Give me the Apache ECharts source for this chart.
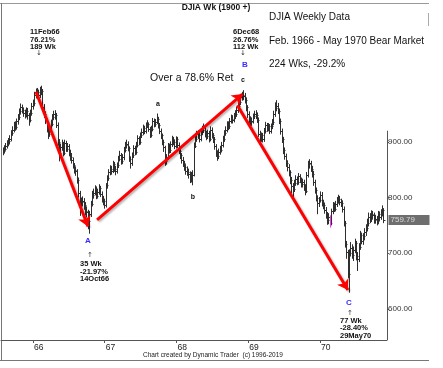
<!DOCTYPE html>
<html><head><meta charset="utf-8">
<script src="https://cdn.jsdelivr.net/npm/echarts@6/dist/echarts.min.js"></script>
<style>html,body{margin:0;padding:0;background:#fff;}#c{width:443px;height:368px;}</style>
</head><body><div id="c"></div>
<script>
// ---- data ----
const firstWeekEnding = [1965, 6, 30]; // Fri 30 Jul 1965 (UTC y, m0, d)
const weekClose = [
884,888,893,897,902,905,916,922,930,927,
937,945,955,962,958,952,950,956,948,940,
952,965,969,985,987,989,984,993,992,962,
950,938,924,914,925,933,944,950,948,931,
900,880,890,897,880,898,888,892,880,873,
868,858,850,847,832,808,788,792,793,787,
776,774,757,770,789,805,809,816,803,810,
818,807,797,793,786,822,835,845,852,848,
860,852,848,858,870,877,865,872,886,894,
897,889,870,862,876,889,882,895,907,900,
912,918,925,920,930,932,924,913,924,938,
932,935,941,930,920,912,900,890,866,872,
893,885,896,905,900,893,905,895,884,876,
868,862,855,848,846,842,833,840,840,893,
905,914,912,905,918,922,926,914,910,916,
905,922,912,905,892,880,874,882,886,895,
905,916,922,932,928,938,942,940,946,950,
958,965,972,980,984,982,975,962,950,940,
935,938,946,950,948,940,915,905,912,905,
920,930,924,928,920,928,935,950,960,965,
956,938,920,905,885,875,862,855,845,832,
820,815,826,834,828,838,832,824,828,818,
812,840,860,862,852,843,828,814,800,790,
796,805,790,786,778,770,760,765,755,775,
786,780,788,795,798,792,790,780,755,717,
702,662,700,710,697,706,718,695,690,712,
732,722,730,738,745,755,765,762,770,768,
760,762,758,770,765,772,778,759.79];
const weekHigh = [
890,894,898,903,907,912,921,928,936,937,
942,950,960,969,967,962,958,962,961,952,
958,970,976,990,996,997,994,999,1001,995,
968,955,942,928,931,940,950,956,957,952,
935,905,897,904,900,904,902,898,896,886,
880,872,862,856,851,836,812,800,802,799,
792,784,778,776,794,812,816,822,820,816,
824,821,811,803,798,826,840,851,858,857,
866,864,857,863,875,884,880,878,891,900,
904,901,892,874,881,894,893,900,912,910,
917,924,931,929,935,939,935,927,929,943,
942,941,951,945,934,924,915,904,893,878,
898,897,901,911,909,904,910,909,899,888,
880,873,866,860,856,852,847,846,849,899,
912,920,921,917,924,929,933,930,920,922,
920,928,926,916,909,896,885,888,893,900,
911,921,928,937,937,943,949,948,952,957,
963,971,978,985,990,993,988,980,966,955,
946,944,951,956,957,953,944,920,917,916,
925,936,934,934,932,933,941,956,971,975,
970,960,942,924,909,890,879,867,860,849,
837,826,832,840,838,844,842,836,834,832,
824,846,866,869,866,857,848,832,818,804,
801,811,810,796,791,783,774,772,768,780,
792,791,794,801,805,803,798,795,784,758,
722,706,707,720,716,712,726,722,702,718,
740,737,736,745,752,762,773,772,777,776,
773,769,767,776,775,779,786,781];
const weekLow = [
876,879,884,888,892,896,901,911,917,920,
922,931,939,949,951,945,942,944,940,929,
935,947,958,964,978,980,976,979,984,957,
943,932,917,905,909,920,928,939,940,925,
893,865,873,884,874,876,882,882,874,866,
861,852,843,839,825,800,767,778,784,778,
768,764,743,735,765,784,798,804,797,798,
805,801,791,786,780,782,816,830,840,841,
844,846,840,843,853,865,859,860,867,881,
888,883,864,852,857,871,876,877,890,894,
895,907,912,914,915,925,918,907,908,919,
926,927,932,924,914,905,894,882,857,859,
868,879,880,891,894,887,888,889,878,869,
861,855,848,841,839,834,826,827,822,838,
889,900,905,899,901,912,916,908,903,905,
899,901,906,898,886,873,866,869,877,881,
890,900,911,917,921,923,933,933,935,941,
945,952,960,966,974,975,969,955,943,933,
928,929,933,941,941,934,909,898,900,899,
900,915,918,919,914,915,923,930,945,955,
950,932,913,898,878,868,855,847,838,824,
808,801,810,821,822,823,826,818,818,812,
804,808,836,852,846,836,821,807,793,770,
783,791,784,779,771,762,751,752,746,750,
770,774,775,783,789,786,783,773,748,710,
690,655,629,694,690,686,700,687,668,684,
706,716,715,723,731,739,748,754,756,761,
753,753,750,752,758,760,766,754];
const highlightWeek = 238;               // magenta bar
const yearTicks = ['1966-01-01','1967-01-01','1968-01-01','1969-01-01','1970-01-01'];
const priceTicks = [600, 700, 800, 900];
const arrowMoves = [
  [['1966-01-16', 990], ['1966-10-08', 748]],
  [['1966-11-23', 760], ['1968-12-02', 986]],
  [['1968-11-06', 966], ['1970-05-23', 634]]
];
const xRange = ['1965-07-22', '1970-12-08'];
const yRange = [544, 1137];
const yAxisLineTop = 920;

// ---- build ----
const WEEK = 7 * 86400000;
const t0 = Date.UTC(firstWeekEnding[0], firstWeekEnding[1], firstWeekEnding[2]);
const bars = weekClose.map((c, i) => [t0 + i * WEEK, weekHigh[i], weekLow[i], c]);
const yearTickVals = yearTicks.map(d => Date.parse(d));
const FONT = 'Liberation Sans, Arial, sans-serif';

const chart = echarts.init(document.getElementById('c'), null, {renderer: 'canvas'});
const option = {
  animation: false,
  backgroundColor: '#fff',
  grid: {left: 1, right: 56, top: 10, bottom: 28, containLabel: false},
  xAxis: {
    type: 'value', min: Date.parse(xRange[0]), max: Date.parse(xRange[1]), scale: true,
    axisLine: {onZero: false, lineStyle: {color: '#555', width: 1}},
    axisTick: {show: true, customValues: yearTickVals, length: 3, lineStyle: {color: '#555'}},
    axisLabel: {customValues: yearTickVals, formatter: v => String(new Date(v).getUTCFullYear() % 100),
      align: 'left', padding: [0, 0, 0, 1], margin: 3, fontSize: 8.5, color: '#222', fontFamily: FONT},
    splitLine: {show: false}
  },
  yAxis: {
    type: 'value', position: 'right', min: yRange[0], max: yRange[1],
    axisLine: {show: false, onZero: false},
    axisTick: {show: true, customValues: priceTicks, length: 2, lineStyle: {color: '#555'}},
    axisLabel: {customValues: priceTicks, formatter: v => v.toFixed(2), margin: 1, fontSize: 8, color: '#333', fontFamily: FONT},
    splitLine: {show: false}
  },
  series: [
    {
      type: 'custom', data: bars, encode: {x: 0, y: [1, 2, 3]}, clip: true, silent: true,
      renderItem(params, api) {
        const t = api.value(0);
        const hi = api.coord([t, api.value(1)]);
        const lo = api.coord([t, api.value(2)]);
        const cl = api.coord([t, api.value(3)]);
        const px = Math.round(hi[0]) + 0.5;
        const cy = Math.round(cl[1]) + 0.5;
        const color = params.dataIndex === highlightWeek ? '#ff33ff' : '#2e2e2e';
        return {type: 'group', children: [
          {type: 'line', shape: {x1: px, y1: hi[1], x2: px, y2: lo[1]}, style: {stroke: color, lineWidth: 1}},
          {type: 'line', shape: {x1: px, y1: cy, x2: px + 2, y2: cy}, style: {stroke: color, lineWidth: 1}}
        ]};
      }
    },
    {
      type: 'lines', coordinateSystem: 'cartesian2d', silent: true, z: 5,
      symbol: ['none', 'arrow'], symbolSize: [0, 10],
      lineStyle: {color: '#ff0000', width: 3, opacity: 1, curveness: 0,
        shadowColor: 'rgba(0,0,0,0.3)', shadowBlur: 2, shadowOffsetX: 1.5, shadowOffsetY: 1.5},
      data: arrowMoves.map(a => ({coords: a.map(p => [Date.parse(p[0]), p[1]])}))
    }
  ]
};
chart.setOption(option);

const last = chart.convertToPixel({xAxisIndex: 0, yAxisIndex: 0}, [bars[bars.length - 1][0], weekClose[weekClose.length - 1]]);
const axX = Math.round(chart.convertToPixel({xAxisIndex: 0}, Date.parse(xRange[1]))) + 0.5;
const axTop = chart.convertToPixel({yAxisIndex: 0}, yAxisLineTop);
const axBot = chart.convertToPixel({yAxisIndex: 0}, yRange[0]);

function txt(x, y, s, o) {
  return Object.assign({type: 'text', x: x, y: y, silent: true, z: 20, style: Object.assign({
    text: s, fill: '#111', font: '10px ' + FONT, textAlign: 'left', textVerticalAlign: 'middle'}, o || {})});
}
const bold7 = {font: 'bold 7.5px ' + FONT};
const blue = {font: 'bold 8px ' + FONT, fill: '#3a2cff', textAlign: 'center'};
const wave = {font: 'bold 7px ' + FONT, textAlign: 'center'};
const arr = {font: '7px DejaVu Sans', textAlign: 'center', fill: '#333'};

chart.setOption({graphic: [
  {type: 'line', shape: {x1: 0, y1: 3.5, x2: 429, y2: 3.5}, style: {stroke: '#999', lineWidth: 1}, silent: true},
  {type: 'line', shape: {x1: 0, y1: 360.5, x2: 429, y2: 360.5}, style: {stroke: '#777', lineWidth: 1}, silent: true},
  {type: 'line', shape: {x1: 1.5, y1: 3, x2: 1.5, y2: 360}, style: {stroke: '#777', lineWidth: 1}, silent: true},
  {type: 'line', shape: {x1: 428.5, y1: 13, x2: 428.5, y2: 26}, style: {stroke: '#aaa', lineWidth: 1}, silent: true},
  {type: 'line', shape: {x1: axX, y1: axTop, x2: axX, y2: axBot}, style: {stroke: '#555', lineWidth: 1}, silent: true},
  {type: 'rect', shape: {x: axX + 1, y: Math.round(last[1]) - 5, width: 41, height: 10}, style: {fill: '#6e6e6e'}, silent: true, z: 10},
  txt(axX + 3, Math.round(last[1]), weekClose[weekClose.length - 1].toFixed(2), {font: '8px ' + FONT, fill: '#dcdcdc'}),
  txt(216, 8, 'DJIA Wk (1900 +)', {font: 'bold 8.5px ' + FONT, textAlign: 'center'}),
  txt(269, 17, 'DJIA Weekly Data', {font: '10px ' + FONT}),
  txt(269, 41, 'Feb. 1966 - May 1970 Bear Market', {font: '10px ' + FONT}),
  txt(269, 64, '224 Wks, -29.2%', {font: '10px ' + FONT}),
  txt(150, 78, 'Over a 78.6% Ret', {font: '10.5px ' + FONT}),
  txt(30, 32, '11Feb66', bold7), txt(30, 40, '76.21%', bold7), txt(30, 47, '189 Wk', bold7),
  txt(39, 53, '↓', arr),
  txt(233, 32, '6Dec68', bold7), txt(233, 40, '26.76%', bold7), txt(233, 47, '112 Wk', bold7),
  txt(243, 53, '↓', arr),
  txt(245, 65, 'B', blue), txt(243, 80, 'c', wave),
  txt(158, 104, 'a', wave), txt(193, 197, 'b', wave),
  txt(88, 241, 'A', blue), txt(90, 255, '↑', arr),
  txt(80, 264, '35 Wk', bold7), txt(80, 272, '-21.97%', bold7), txt(80, 279, '14Oct66', bold7),
  txt(349, 303, 'C', blue), txt(350, 313, '↑', arr),
  txt(340, 321, '77 Wk', bold7), txt(340, 328, '-28.40%', bold7), txt(340, 336, '29May70', bold7),
  txt(143, 355, 'Chart created by Dynamic Trader  (c) 1996-2019', {font: '6.5px ' + FONT, fill: '#222'})
]});
</script></body></html>
